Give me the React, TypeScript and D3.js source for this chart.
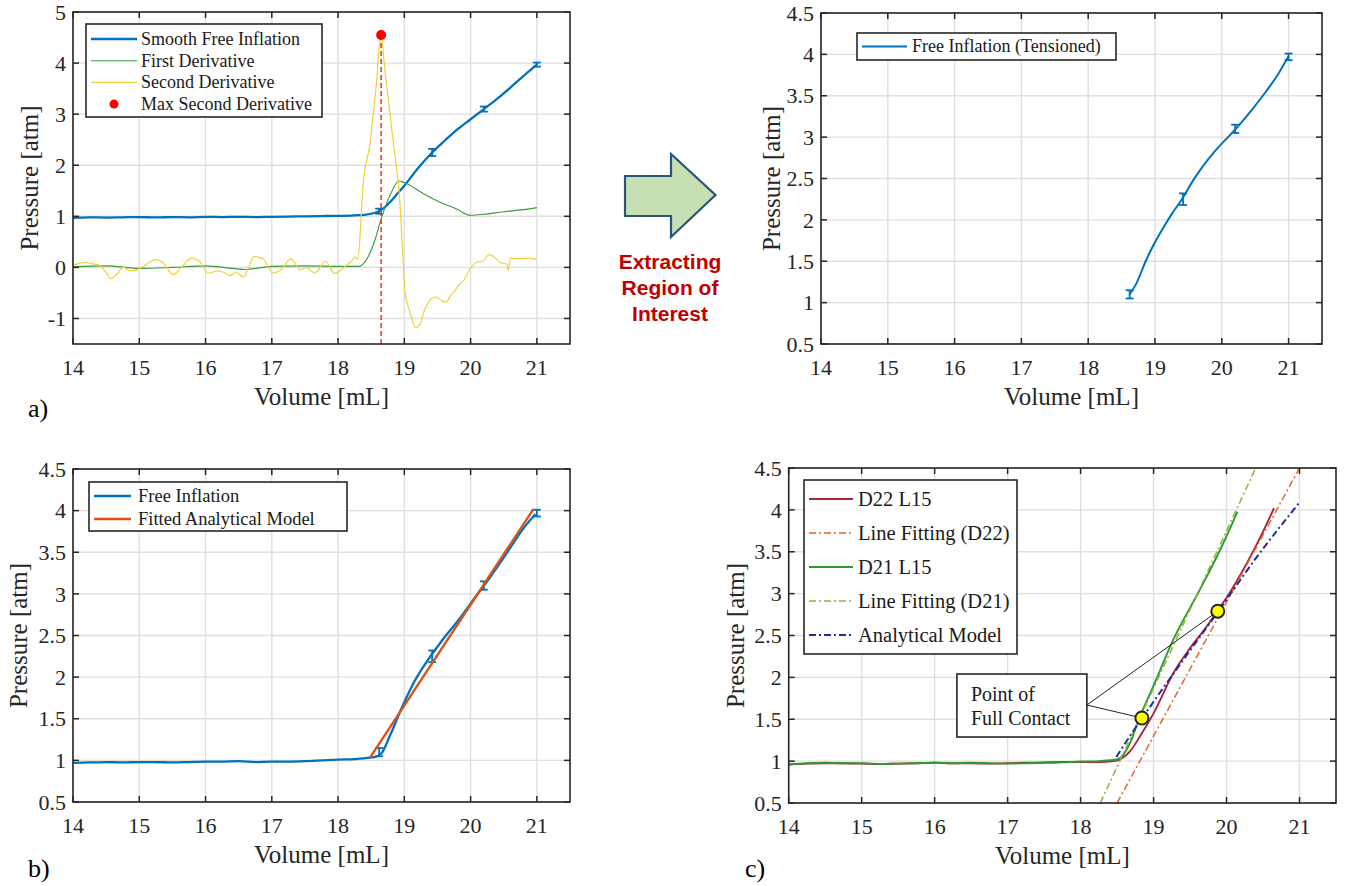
import * as d3 from "d3";

const SERIF = "'Liberation Serif', 'Times New Roman', serif";
const SANS = "'Liberation Sans', Arial, sans-serif";

// shared ticks
const volumeTicks = [14, 15, 16, 17, 18, 19, 20, 21];
const pressureTicksA = [-1, 0, 1, 2, 3, 4, 5];
const pressureTicks = [0.5, 1, 1.5, 2, 2.5, 3, 3.5, 4, 4.5];

// a) derivative method
const smoothFreeInflation = [
  [14, 0.97], [14.25, 0.98], [14.5, 0.975], [14.75, 0.98], [15, 0.985], [15.25, 0.978],
  [15.5, 0.985], [15.75, 0.98], [16, 0.99], [16.25, 0.985], [16.5, 0.99], [16.75, 0.985],
  [17, 0.99], [17.25, 0.995], [17.5, 1.0], [17.75, 1.005], [18, 1.01], [18.25, 1.02],
  [18.4, 1.03], [18.5, 1.05], [18.6, 1.09], [18.7, 1.17], [18.8, 1.3], [18.9, 1.45],
  [19.0, 1.6], [19.2, 1.93], [19.42, 2.25], [19.6, 2.47], [19.8, 2.7], [20.0, 2.9],
  [20.2, 3.1], [20.4, 3.3], [20.6, 3.52], [20.8, 3.75], [21.0, 3.97],
];
const firstDerivative = [
  [14, 0.01], [14.5, 0.03], [15, -0.02], [15.5, 0.0], [16, 0.03], [16.6, -0.04], [17, 0.02],
  [17.5, 0.03], [18, 0.02], [18.31, 0.02], [18.45, 0.2], [18.56, 0.55], [18.65, 0.95],
  [18.78, 1.4], [18.92, 1.69], [19.0, 1.66], [19.28, 1.45], [19.5, 1.3], [19.78, 1.15],
  [20.0, 1.02], [20.2, 1.04], [20.5, 1.09], [20.8, 1.13], [21, 1.17],
];
const secondDerivative = [
  [14, 0.04], [14.1, 0.08], [14.18, 0.1], [14.3, 0.07], [14.4, 0.04], [14.5, -0.1], [14.57, -0.22],
  [14.67, -0.12], [14.76, 0.0], [14.87, -0.07], [14.98, -0.04], [15.1, 0.05], [15.24, 0.15],
  [15.35, 0.1], [15.51, -0.14], [15.62, -0.02], [15.79, 0.18], [15.9, 0.13], [16.04, -0.11],
  [16.18, -0.07], [16.28, -0.1], [16.37, -0.16], [16.46, -0.09], [16.57, -0.19], [16.65, 0.0],
  [16.73, 0.21], [16.87, 0.17], [17.01, -0.11], [17.15, -0.03], [17.29, 0.17], [17.43, -0.05],
  [17.52, 0.0], [17.65, -0.11], [17.81, 0.12], [17.95, -0.12], [18.09, 0.0], [18.2, 0.12],
  [18.26, 0.2], [18.3, 0.16], [18.34, 0.8], [18.37, 1.5], [18.41, 1.95], [18.48, 2.4],
  [18.53, 3.0], [18.58, 3.62], [18.62, 4.3], [18.65, 4.55], [18.69, 4.1], [18.72, 3.7],
  [18.76, 3.29], [18.81, 2.7], [18.86, 2.18], [18.93, 1.33], [18.97, 0.4], [19.01, -0.49],
  [19.08, -0.85], [19.17, -1.18], [19.23, -1.13], [19.3, -0.85], [19.38, -0.65], [19.48, -0.58],
  [19.56, -0.65], [19.63, -0.68], [19.7, -0.55], [19.76, -0.46], [19.83, -0.33], [19.9, -0.25],
  [19.96, -0.1], [20.02, 0.02], [20.09, 0.1], [20.18, 0.12], [20.28, 0.25], [20.36, 0.2],
  [20.44, 0.1], [20.5, 0.08], [20.55, 0.06], [20.57, -0.06], [20.6, 0.18], [20.7, 0.17],
  [20.85, 0.18], [21, 0.15],
];
const maxSecondDerivative = [18.65, 4.55];

// measured points with error bars
const errVolume = [18.62, 19.42, 20.2, 21];
const errPressure = [1.1, 2.25, 3.1, 3.97];
const errHalf = [0.05, 0.07, 0.05, 0.04];

// top right: region of interest
const tensionedInflation = [
  [18.62, 1.1], [18.72, 1.23], [18.86, 1.5], [19.0, 1.73], [19.12, 1.9], [19.25, 2.07],
  [19.42, 2.27], [19.55, 2.45], [19.71, 2.64], [19.93, 2.86], [20.21, 3.1], [20.45, 3.33],
  [20.67, 3.56], [20.85, 3.77], [21, 3.98],
];

// b) fitted model
const freeInflation = [
  [14, 0.97], [14.25, 0.975], [14.5, 0.98], [14.75, 0.975], [15, 0.98], [15.25, 0.98],
  [15.5, 0.975], [15.75, 0.98], [16, 0.985], [16.25, 0.985], [16.5, 0.99], [16.75, 0.98],
  [17, 0.985], [17.25, 0.985], [17.5, 0.99], [17.75, 1.0], [18, 1.01], [18.25, 1.015],
  [18.45, 1.03], [18.55, 1.04], [18.65, 1.08], [18.79, 1.31], [18.96, 1.63], [19.12, 1.9],
  [19.35, 2.2], [19.57, 2.44], [19.85, 2.72], [20.07, 2.96], [20.24, 3.14], [20.57, 3.52],
  [20.79, 3.78], [20.98, 3.96],
];
const fittedModel = [[18.48, 1.03], [20.95, 4.02]];

// c) two diameters
const d22L15 = [
  [14, 0.96], [14.25, 0.97], [14.5, 0.975], [14.75, 0.975], [15, 0.97], [15.25, 0.965],
  [15.5, 0.97], [15.75, 0.975], [16, 0.98], [16.25, 0.975], [16.5, 0.975], [16.75, 0.97],
  [17, 0.975], [17.25, 0.98], [17.5, 0.985], [17.75, 0.99], [18, 0.99], [18.25, 0.99],
  [18.45, 1.0], [18.56, 1.03], [18.68, 1.12], [18.81, 1.29], [19.0, 1.57], [19.27, 2.05],
  [19.5, 2.35], [19.73, 2.61], [19.88, 2.8], [20.05, 3.02], [20.2, 3.24], [20.35, 3.48],
  [20.5, 3.74], [20.65, 4.02],
];
const d21L15 = [
  [14, 0.96], [14.25, 0.975], [14.5, 0.98], [14.75, 0.975], [15, 0.975], [15.25, 0.965],
  [15.5, 0.97], [15.75, 0.975], [16, 0.98], [16.25, 0.975], [16.5, 0.98], [16.75, 0.975],
  [17, 0.97], [17.25, 0.975], [17.5, 0.98], [17.75, 0.985], [18, 0.995], [18.25, 1.0],
  [18.4, 1.01], [18.5, 1.02], [18.58, 1.07], [18.68, 1.22], [18.8, 1.5], [19.0, 1.9],
  [19.27, 2.45], [19.63, 3.04], [19.9, 3.5], [20.15, 3.98],
];
const fitD22 = [[18.5, 0.5], [21.0, 4.5]];
const fitD21 = [[18.27, 0.5], [20.4, 4.5]];
const analyticalModel = [
  [18.49, 1.05], [18.7, 1.33], [19.0, 1.71], [19.4, 2.2], [19.88, 2.78], [20.4, 3.42], [21, 4.09],
];
const contactVolume = [18.84, 19.88];
const contactPressure = [1.515, 2.79];
const noteBox = { v0: 16.305, v1: 18.086, p0: 1.288, p1: 2.04, pLead: 1.67 };

const DASHDOT = "7,3,2,3";

type Box = { left: number; right: number; top: number; bottom: number };

function scales(box: Box, yDomain: number[]) {
  const x = d3.scaleLinear().domain([14, 21.5]).range([box.left, box.right]);
  const y = d3.scaleLinear().domain(yDomain).range([box.bottom, box.top]);
  return { x, y };
}

function path(x, y, data, curve = d3.curveMonotoneX) {
  return d3
    .line<number[]>()
    .x((d) => x(d[0]))
    .y((d) => y(d[1]))
    .curve(curve)(data);
}

function Axes({ id, box, x, y, yTicks, letter, letterY, yTitleX, children, overlay = null }) {
  const { left, right, top, bottom } = box;
  return (
    <g>
      <defs>
        <clipPath id={id}>
          <rect x={left} y={top} width={right - left} height={bottom - top} />
        </clipPath>
      </defs>
      <rect x={left} y={top} width={right - left} height={bottom - top} fill="#fff" />
      {volumeTicks.map((t) => (
        <line key={"gx" + t} x1={x(t)} x2={x(t)} y1={top} y2={bottom} stroke="#dfdfdf" strokeWidth={1.4} />
      ))}
      {yTicks.map((t) => (
        <line key={"gy" + t} x1={left} x2={right} y1={y(t)} y2={y(t)} stroke="#dfdfdf" strokeWidth={1.4} />
      ))}
      <g clipPath={`url(#${id})`}>{children}</g>
      {overlay}
      {volumeTicks.map((t) => (
        <g key={"tx" + t} stroke="#262626" strokeWidth={1.5}>
          <line x1={x(t)} x2={x(t)} y1={bottom} y2={bottom - 6} />
          <line x1={x(t)} x2={x(t)} y1={top} y2={top + 6} />
        </g>
      ))}
      {yTicks.map((t) => (
        <g key={"ty" + t} stroke="#262626" strokeWidth={1.5}>
          <line x1={left} x2={left + 6} y1={y(t)} y2={y(t)} />
          <line x1={right} x2={right - 6} y1={y(t)} y2={y(t)} />
        </g>
      ))}
      <rect x={left} y={top} width={right - left} height={bottom - top} fill="none" stroke="#262626" strokeWidth={1.6} />
      <g fontFamily={SERIF} fontSize={22} fill="#262626">
        {volumeTicks.map((t) => (
          <text key={"lx" + t} x={x(t)} y={bottom + 31} textAnchor="middle">
            {t}
          </text>
        ))}
        {yTicks.map((t) => (
          <text key={"ly" + t} x={left - 7} y={y(t)} dy="0.35em" textAnchor="end">
            {t}
          </text>
        ))}
      </g>
      <text x={(left + right) / 2} y={bottom + 61} textAnchor="middle" fontFamily={SERIF} fontSize={25} fill="#262626">
        Volume [mL]
      </text>
      <text
        transform={`translate(${yTitleX},${(top + bottom) / 2}) rotate(-90)`}
        dy="0.35em"
        textAnchor="middle"
        fontFamily={SERIF}
        fontSize={25}
        fill="#262626"
      >
        Pressure [atm]
      </text>
      {letter && (
        <text x={letter[0]} y={letterY} fontFamily={SERIF} fontSize={26} fill="#000">
          {letter[1]}
        </text>
      )}
    </g>
  );
}

function Legend({ x0, y0, w, h, first, step, lineEnd, textX, fontSize, items }) {
  return (
    <g>
      <rect x={x0} y={y0} width={w} height={h} fill="#fff" stroke="#262626" strokeWidth={1.6} />
      {items.map((it, i) => {
        const cy = y0 + first + i * step;
        return (
          <g key={it.label}>
            {it.dot ? (
              <circle cx={x0 + (5 + lineEnd) / 2} cy={cy} r={4.5} fill={it.color} />
            ) : (
              <line
                x1={x0 + 5}
                x2={x0 + lineEnd}
                y1={cy}
                y2={cy}
                stroke={it.color}
                strokeWidth={it.width}
                strokeDasharray={it.dash || null}
              />
            )}
            <text x={x0 + textX} y={cy} dy="0.33em" fontFamily={SERIF} fontSize={fontSize} fill="#1a1a1a">
              {it.label}
            </text>
          </g>
        );
      })}
    </g>
  );
}

function ErrorBars({ x, y, color }) {
  return (
    <g stroke={color} strokeWidth={1.8}>
      {errVolume.map((v, i) => (
        <g key={v}>
          <line x1={x(v)} x2={x(v)} y1={y(errPressure[i] - errHalf[i])} y2={y(errPressure[i] + errHalf[i])} />
          <line x1={x(v) - 4} x2={x(v) + 4} y1={y(errPressure[i] - errHalf[i])} y2={y(errPressure[i] - errHalf[i])} />
          <line x1={x(v) - 4} x2={x(v) + 4} y1={y(errPressure[i] + errHalf[i])} y2={y(errPressure[i] + errHalf[i])} />
        </g>
      ))}
    </g>
  );
}

const BLUE = "#0072BD";

function PanelA() {
  const box = { left: 73, right: 570, top: 12, bottom: 344 };
  const { x, y } = scales(box, [-1.5, 5]);
  return (
    <g>
      <Axes id="clipA" box={box} x={x} y={y} yTicks={pressureTicksA} letter={[28, "a)"]} letterY={417} yTitleX={29}>
        <path d={path(x, y, smoothFreeInflation)} fill="none" stroke={BLUE} strokeWidth={2.3} />
        <ErrorBars x={x} y={y} color={BLUE} />
        <path d={path(x, y, firstDerivative)} fill="none" stroke="#3a9a3a" strokeWidth={1.1} />
        <path d={path(x, y, secondDerivative)} fill="none" stroke="#f0d236" strokeWidth={1.2} />
        <line
          x1={x(maxSecondDerivative[0])}
          x2={x(maxSecondDerivative[0])}
          y1={y(maxSecondDerivative[1])}
          y2={box.bottom}
          stroke="#ff2a2a"
          strokeWidth={1.5}
          strokeDasharray="5,3"
        />
        <circle cx={x(maxSecondDerivative[0])} cy={y(maxSecondDerivative[1])} r={5} fill="#ff0000" />
      </Axes>
      <Legend
        x0={86}
        y0={24}
        w={236}
        h={93}
        first={15}
        step={21.7}
        lineEnd={51}
        textX={55}
        fontSize={18}
        items={[
          { label: "Smooth Free Inflation", color: BLUE, width: 2.3 },
          { label: "First Derivative", color: "#3a9a3a", width: 1.1 },
          { label: "Second Derivative", color: "#f0d236", width: 1.2 },
          { label: "Max Second Derivative", color: "#ff0000", dot: true },
        ]}
      />
    </g>
  );
}

function PanelTR() {
  const box = { left: 821, right: 1322, top: 13, bottom: 344 };
  const { x, y } = scales(box, [0.5, 4.5]);
  return (
    <g>
      <Axes id="clipTR" box={box} x={x} y={y} yTicks={pressureTicks} letter={null} letterY={0} yTitleX={771}>
        <path d={path(x, y, tensionedInflation)} fill="none" stroke={BLUE} strokeWidth={2} />
        <ErrorBars x={x} y={y} color={BLUE} />
      </Axes>
      <Legend
        x0={857}
        y0={33}
        w={259}
        h={27}
        first={13.5}
        step={0}
        lineEnd={50}
        textX={55}
        fontSize={18}
        items={[{ label: "Free Inflation (Tensioned)", color: BLUE, width: 2 }]}
      />
    </g>
  );
}

function PanelB() {
  const box = { left: 73, right: 570, top: 469, bottom: 802 };
  const { x, y } = scales(box, [0.5, 4.5]);
  return (
    <g>
      <Axes id="clipB" box={box} x={x} y={y} yTicks={pressureTicks} letter={[28, "b)"]} letterY={877} yTitleX={18}>
        <path d={path(x, y, freeInflation)} fill="none" stroke={BLUE} strokeWidth={2.3} />
        <ErrorBars x={x} y={y} color={BLUE} />
        <path d={path(x, y, fittedModel, d3.curveLinear)} fill="none" stroke="#D95319" strokeWidth={2.4} />
      </Axes>
      <Legend
        x0={89}
        y0={482}
        w={258}
        h={49}
        first={14}
        step={23}
        lineEnd={42}
        textX={49}
        fontSize={18.5}
        items={[
          { label: "Free Inflation", color: BLUE, width: 2.3 },
          { label: "Fitted Analytical Model", color: "#D95319", width: 2.4 },
        ]}
      />
    </g>
  );
}

function PanelC() {
  const box = { left: 788.7, right: 1336, top: 468, bottom: 803 };
  const { x, y } = scales(box, [0.5, 4.5]);
  const RED = "#a8243f";
  const GREEN = "#2f9a2f";
  const ORANGE = "#e8642a";
  const LIME = "#84b83a";
  const NAVY = "#1f2e9c";
  const note = (
    <g>
      {contactVolume.map((v, i) => (
        <line
          key={"lead" + v}
          x1={x(noteBox.v1)}
          y1={y(noteBox.pLead)}
          x2={x(v)}
          y2={y(contactPressure[i])}
          stroke="#222"
          strokeWidth={1}
        />
      ))}
      {contactVolume.map((v, i) => (
        <circle key={"pt" + v} cx={x(v)} cy={y(contactPressure[i])} r={6.5} fill="#ffff00" stroke="#262626" strokeWidth={2} />
      ))}
      <rect
        x={x(noteBox.v0)}
        y={y(noteBox.p1)}
        width={x(noteBox.v1) - x(noteBox.v0)}
        height={y(noteBox.p0) - y(noteBox.p1)}
        fill="#fff"
        stroke="#262626"
        strokeWidth={1.6}
      />
      <g style={{ fontFamily: SERIF }} fontSize={20} fill="#1a1a1a">
        <text x={x(noteBox.v0) + 14} y={y(noteBox.p1) + 27}>
          Point of
        </text>
        <text x={x(noteBox.v0) + 14} y={y(noteBox.p1) + 51}>
          Full Contact
        </text>
      </g>
    </g>
  );
  return (
    <g>
      <Axes
        id="clipC"
        box={box}
        x={x}
        y={y}
        yTicks={pressureTicks}
        letter={[745, "c)"]}
        letterY={877}
        yTitleX={735}
        overlay={note}
      >
        <path d={path(x, y, d22L15)} fill="none" stroke={RED} strokeWidth={1.9} />
        <path d={path(x, y, fitD22, d3.curveLinear)} fill="none" stroke={ORANGE} strokeWidth={1.5} strokeDasharray={DASHDOT} />
        <path d={path(x, y, d21L15)} fill="none" stroke={GREEN} strokeWidth={1.9} />
        <path d={path(x, y, fitD21, d3.curveLinear)} fill="none" stroke={LIME} strokeWidth={1.5} strokeDasharray={DASHDOT} />
        <path d={path(x, y, analyticalModel)} fill="none" stroke={NAVY} strokeWidth={2} strokeDasharray={DASHDOT} />
      </Axes>
      <Legend
        x0={804}
        y0={480}
        w={213}
        h={174}
        first={19}
        step={34}
        lineEnd={49}
        textX={54}
        fontSize={20.5}
        items={[
          { label: "D22 L15", color: RED, width: 1.9 },
          { label: "Line Fitting (D22)", color: ORANGE, width: 1.5, dash: DASHDOT },
          { label: "D21 L15", color: GREEN, width: 1.9 },
          { label: "Line Fitting (D21)", color: LIME, width: 1.5, dash: DASHDOT },
          { label: "Analytical Model", color: NAVY, width: 2, dash: DASHDOT },
        ]}
      />
    </g>
  );
}

function Arrow() {
  // block arrow between the top panels
  const pts = [
    [625, 176],
    [671, 176],
    [671, 154],
    [715.5, 195],
    [671, 237],
    [671, 216],
    [625, 216],
  ];
  return (
    <g>
      <polygon points={pts.map((p) => p.join(",")).join(" ")} fill="#c6e0b4" stroke="#2a5478" strokeWidth={2.2} />
      <g fontFamily={SANS} fontWeight="bold" fontSize={21} fill="#c00000" textAnchor="middle">
        <text x={670} y={269}>Extracting</text>
        <text x={670} y={295}>Region of</text>
        <text x={670} y={321}>Interest</text>
      </g>
    </g>
  );
}

export default function App() {
  return (
    <svg
      width={1348}
      height={886}
      viewBox="0 0 1348 886"
      style={{ position: "absolute", left: 0, top: 0, background: "#fff" }}
    >
      <rect width={1348} height={886} fill="#fff" />
      <PanelA />
      <Arrow />
      <PanelTR />
      <PanelB />
      <PanelC />
    </svg>
  );
}
